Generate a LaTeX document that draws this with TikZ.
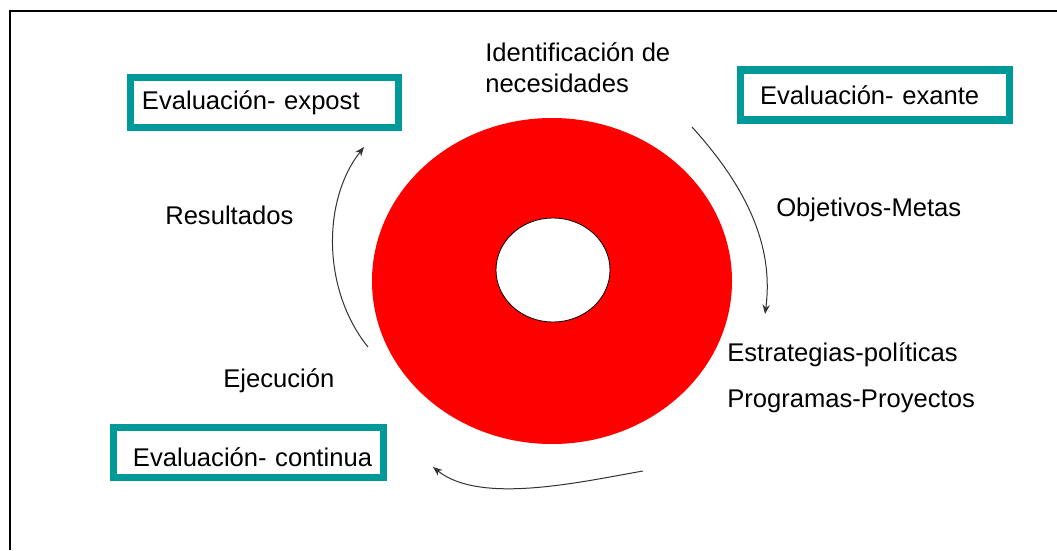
\documentclass[tikz,border=0pt]{standalone}
\usepackage{fontspec}
\setmainfont{Liberation Sans}
\usepackage{tikz}
\usetikzlibrary{arrows,arrows.meta,shapes,positioning}
\usepackage{xcolor}
\definecolor{evalteal}{RGB}{0,153,153}
\definecolor{ringred}{RGB}{255,0,0}
\definecolor{arrowgray}{RGB}{50,50,50}
\tikzstyle{arrow} = [line width=0.75pt,-{Stealth[length=7pt,width=5.5pt]},color=arrowgray]
\tikzstyle{lbl} = [anchor=base west, inner sep=0pt, align=left, font=\fontsize{19.2}{23.25}\selectfont]
\tikzstyle{evalbox} = [rectangle, draw=evalteal, line width=5.3pt, minimum height=37.5pt, inner ysep=0pt, align=left, font=\fontsize{19.2}{23.25}\selectfont]

\begin{document}
\begin{tikzpicture}[x=0.75pt, y=-0.75pt]
    \useasboundingbox (0,0) rectangle (1057,550);
    % Frame
    \draw[line width=1.5pt] (10,550) -- (10,11) -- (1057,11);

    % Ring
    \fill[ringred] (552,281) ellipse [x radius=180, y radius=163];
    \filldraw[fill=white, draw=black, line width=0.6pt] (553,270) ellipse [x radius=57, y radius=52];

    % Nodes
    \node[evalbox, text width=183.8pt, inner xsep=8.6pt] (expost) at (264.5,102.5) {\mbox{Evaluación- expost}};
    \node[evalbox, text width=172.5pt, inner xsep=14.6pt] (exante) at (875,95) {\mbox{Evaluación- exante}};
    \node[evalbox, text width=173.3pt, inner xsep=14.6pt] (continua) at (248.5,452.5) {\raisebox{-10.5pt}[0pt][0pt]{Evaluación- continua}};

    % Labels
    \node[lbl] (necesidades) at (485,92) {Identificación de\\necesidades};
    \node[lbl] (objetivos) at (776,216) {Objetivos-Metas};
    \node[lbl] (estrategias) at (727,361) {Estrategias-políticas};
    \node[lbl] (programas) at (727,407) {Programas-Proyectos};
    \node[lbl] (resultados) at (165,224) {Resultados};
    \node[lbl] (ejecucion) at (223,387) {Ejecución};

    % Arrow ends
    \coordinate (exante-s) at (692,127);
    \coordinate (estrat-n) at (765,314);
    \coordinate (prog-s) at (643,471);
    \coordinate (cont-e) at (433,467);
    \coordinate (ejec-e) at (368,347);
    \coordinate (expost-s) at (364,147);

    % Arrows
    \draw[arrow] (exante-s) .. controls (740,180) and (775,240) .. (estrat-n);
    \draw[arrow] (prog-s) .. controls (580,482) and (480,505) .. (cont-e);
    \draw[arrow] (ejec-e) .. controls (322,290) and (322,200) .. (expost-s);
\end{tikzpicture}
\end{document}
